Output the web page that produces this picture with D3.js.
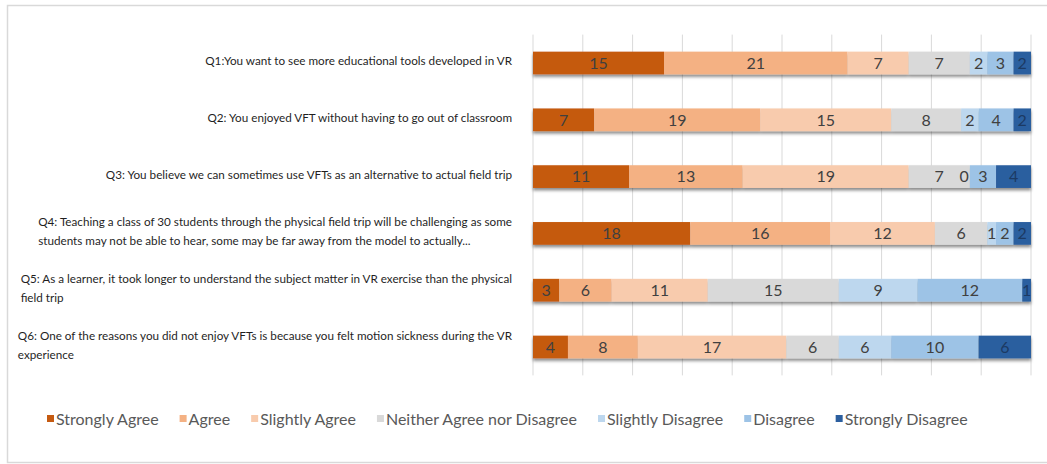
<!DOCTYPE html>
<html>
<head>
<meta charset="utf-8">
<script src="https://cdn.jsdelivr.net/npm/d3@7"></script>
<style>
  body { margin: 0; background: #fff; }
  text { font-family: Lato, "Open Sans", sans-serif; }
</style>
</head>
<body>
<svg id="chart" width="1047" height="464"></svg>
<script>
// question labels, already wrapped as in the original
const questions = [
  ["Q1:You want to see more educational tools developed in VR"],
  ["Q2: You enjoyed VFT without having to go out of classroom"],
  ["Q3: You believe we can sometimes use VFTs as an alternative to actual field trip"],
  ["Q4: Teaching a class of 30 students through the physical field trip will be challenging as some",
   "students may not be able to hear, some may be far away from the model to actually..."],
  ["Q5: As a learner, it took longer to understand the subject matter in VR exercise than the physical",
   "field trip"],
  ["Q6: One of the reasons you did not enjoy VFTs is because you felt motion sickness during the VR",
   "experience"],
];

const categories = [
  "Strongly Agree", "Agree", "Slightly Agree", "Neither Agree nor Disagree",
  "Slightly Disagree", "Disagree", "Strongly Disagree",
];

const stronglyAgree = [15, 7, 11, 18, 3, 4];
const agree = [21, 19, 13, 16, 6, 8];
const slightlyAgree = [7, 15, 19, 12, 11, 17];
const neither = [7, 8, 7, 6, 15, 6];
const slightlyDisagree = [2, 2, 0, 1, 9, 6];
const disagree = [3, 4, 3, 2, 12, 10];
const stronglyDisagree = [2, 2, 4, 2, 1, 6];

const gridTicks = d3.range(0, 1.0001, 0.1);

const COLORS = ["#C55A11", "#F4B183", "#F8CBAD", "#D9D9D9", "#BDD7EE", "#9DC3E6", "#2C5F9F"];

const series = [stronglyAgree, agree, slightlyAgree, neither, slightlyDisagree, disagree, stronglyDisagree];

const MARGIN = { left: 533, right: 16, top: 34.6, bottom: 88.6 };
const width = 1047, height = 464;

const svg = d3.select("#chart");

// outer frame
svg.append("rect")
  .attr("x", 7.5).attr("y", 5.5)
  .attr("width", 1100).attr("height", 457)
  .attr("fill", "none")
  .attr("stroke", "#d9d9d9")
  .attr("stroke-width", 1.5);

const defs = svg.append("defs");
defs.append("filter")
  .attr("id", "shadow")
  .attr("x", "-5%").attr("y", "-30%")
  .attr("width", "110%").attr("height", "180%")
  .append("feDropShadow")
  .attr("dx", 0).attr("dy", 2.5)
  .attr("stdDeviation", 1.5)
  .attr("flood-color", "#000")
  .attr("flood-opacity", 0.45);

const rows = questions.map((q, i) => {
  const vals = series.map((s) => s[i]);
  return { q, i, vals, total: d3.sum(vals) };
});

const xScale = d3.scaleLinear()
  .domain([0, 1])
  .range([MARGIN.left, width - MARGIN.right]);

const yScale = d3.scaleBand()
  .domain(d3.range(questions.length))
  .range([MARGIN.top, height - MARGIN.bottom])
  .paddingInner(0.6)
  .paddingOuter(0.3);

// vertical gridlines
svg.append("g")
  .selectAll("line")
  .data(gridTicks)
  .join("line")
  .attr("x1", (d) => xScale(d))
  .attr("x2", (d) => xScale(d))
  .attr("y1", MARGIN.top)
  .attr("y2", height - MARGIN.bottom)
  .attr("stroke", "#d9d9d9")
  .attr("stroke-width", 1);

// stacked segments
const rowG = svg.append("g")
  .selectAll("g")
  .data(rows)
  .join("g")
  .attr("transform", (d) => `translate(0,${yScale(d.i)})`);

const segs = (d) => {
  let acc = 0;
  return d.vals.map((v, k) => {
    const s = { k, v, x0: acc / d.total, x1: (acc + v) / d.total };
    acc += v;
    return s;
  });
};

rowG.append("g")
  .attr("filter", "url(#shadow)")
  .selectAll("rect")
  .data(segs)
  .join("rect")
  .attr("x", (s) => xScale(s.x0))
  .attr("width", (s) => xScale(s.x1) - xScale(s.x0))
  .attr("y", 0)
  .attr("height", yScale.bandwidth())
  .attr("fill", (s) => COLORS[s.k]);

rowG.append("g")
  .selectAll("text")
  .data(segs)
  .join("text")
  .attr("x", (s) => xScale((s.x0 + s.x1) / 2) + (s.v === 0 ? -1 : 0))
  .attr("y", yScale.bandwidth() / 2)
  .attr("dy", "0.36em")
  .attr("text-anchor", (s) => (s.v === 0 ? "end" : "middle"))
  .attr("font-size", 16)
  .attr("fill", (s) => (s.k === 6 ? "#1c3a63" : "#404040"))
  .text((s) => s.v);

// question labels
const LABEL_RIGHT = 512;
const LINE_H = 19;
svg.append("g")
  .selectAll("text")
  .data(rows)
  .join("text")
  .attr("font-size", 11.7)
  .attr("fill", "#1f1f1f")
  .each(function (d) {
    const t = d3.select(this);
    const cy = yScale(d.i) + yScale.bandwidth() / 2 - 2;
    const n = d.q.length;
    const tspans = d.q.map((line, j) =>
      t.append("tspan")
        .attr("y", cy + (j - (n - 1) / 2) * LINE_H)
        .attr("dy", "0.35em")
        .text(line)
    );
    const maxW = d3.max(tspans, (ts) => ts.node().getComputedTextLength());
    tspans.forEach((ts) => ts.attr("x", LABEL_RIGHT - maxW));
  });

// legend
const legend = svg.append("g").attr("transform", "translate(47,419)");
let lx = 0;
categories.forEach((c, k) => {
  const item = legend.append("g").attr("transform", `translate(${lx},0)`);
  item.append("rect")
    .attr("x", 0).attr("y", -4)
    .attr("width", 7).attr("height", 7)
    .attr("fill", COLORS[k]);
  const t = item.append("text")
    .attr("x", 9)
    .attr("y", 0)
    .attr("dy", "0.35em")
    .attr("font-size", 16)
    .attr("fill", "#595959")
    .text(c);
  lx += 9 + t.node().getComputedTextLength() + 21;
});
</script>
</body>
</html>
